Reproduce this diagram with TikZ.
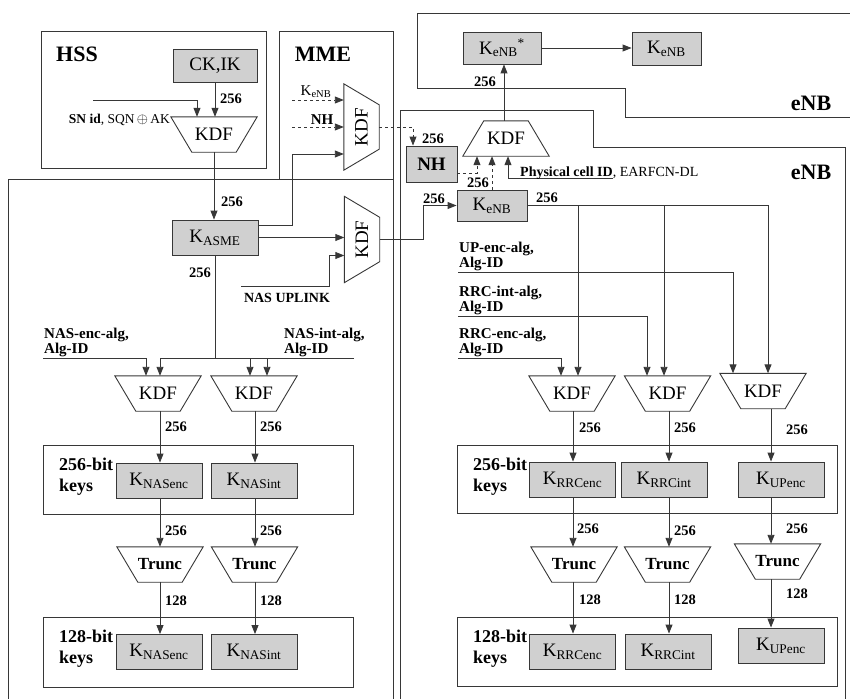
\documentclass[tikz,border=0pt]{standalone}
\usepackage{fontspec}
\usepackage{graphicx}
\setmainfont{Liberation Serif}
\usetikzlibrary{arrows.meta,positioning}
\definecolor{keyGray}{RGB}{208,208,208}
\definecolor{lineDark}{RGB}{55,55,55}
\newcommand{\Ksub}[1]{K\textsubscript{#1}}

\begin{document}
\begin{tikzpicture}[x=1pt,y=-1pt,
    trap/.style={draw=lineDark,line width=0.9pt},
    key/.style={draw=lineDark,line width=0.9pt,fill=keyGray,minimum width=86pt,minimum height=35pt,
      inner sep=0pt,font=\fontsize{19}{19}\selectfont},
    kdf/.style={minimum width=86pt,minimum height=35pt,inner sep=0pt,font=\fontsize{19}{19}\selectfont,
      append after command={\pgfextra{\draw[trap] (\tikzlastnode.north west) -- (\tikzlastnode.north east)
        -- ([xshift=-21pt]\tikzlastnode.south east) -- ([xshift=21pt]\tikzlastnode.south west) -- cycle;}}},
    kdfup/.style={minimum width=86pt,minimum height=35pt,inner sep=0pt,font=\fontsize{19}{19}\selectfont,
      append after command={\pgfextra{\draw[trap] ([xshift=21pt]\tikzlastnode.north west)
        -- ([xshift=-21pt]\tikzlastnode.north east) -- (\tikzlastnode.south east)
        -- (\tikzlastnode.south west) -- cycle;}}},
    kdfside/.style={minimum width=35pt,minimum height=86pt,inner sep=0pt,font=\fontsize{19}{19}\selectfont,
      append after command={\pgfextra{\draw[trap] (\tikzlastnode.north west)
        -- ([yshift=-21pt]\tikzlastnode.north east) -- ([yshift=21pt]\tikzlastnode.south east)
        -- (\tikzlastnode.south west) -- cycle;}}},
    trunc/.style={kdf,font=\fontsize{17}{17}\selectfont\bfseries},
    frame/.style={draw=lineDark,line width=0.9pt},
    title/.style={font=\fontsize{22}{22}\selectfont\bfseries,inner sep=0pt},
    num/.style={font=\fontsize{14.5}{14.5}\selectfont\bfseries,inner sep=0pt},
    alg/.style={font=\fontsize{15}{15}\selectfont\bfseries,align=left,anchor=south west,inner sep=1pt},
    bits/.style={font=\fontsize{18}{21}\selectfont\bfseries,align=left,anchor=west,inner sep=0pt},
    arr/.style={-{Triangle[length=9pt,width=7pt]},draw=lineDark,line width=0.9pt},
    darr/.style={arr,dashed}
  ]
  \useasboundingbox (0,0) rectangle (850,698);

  % domains
  \draw[frame] (41,31) rectangle (266,168);
  \draw[frame] (279,31) rectangle (393,179);
  \draw[frame] (8,700) -- (8,179) -- (393,179) -- (393,700);
  \draw[frame] (852,13) -- (417,13) -- (417,88) -- (625,88) -- (625,117) -- (852,117);
  \draw[frame] (400,700) -- (400,110) -- (593,110) -- (593,147) -- (845,147) -- (845,700);
  \node[title] (hss) at (77,54) {HSS};
  \node[title] (mme) at (323,54) {MME};
  \node[title] (enbT) at (811,103) {eNB};
  \node[title] (enbB) at (811,172) {eNB};

  % HSS
  \node[key,minimum width=84pt,minimum height=33pt] (ckik) at (215,65.5) {CK,IK};
  \node[kdf] (kdfH) at (214,134.5) {KDF};
  \draw[arr] (ckik.south) -- (ckik.south |- kdfH.north);
  \node[num] (n1) at (231,99) {256};
  \coordinate (snin) at (93,100);
  \draw[arr] (snin) -| ([xshift=-17pt]kdfH.north);
  \node[font=\fontsize{13.5}{13.5}\selectfont,anchor=east,inner sep=0pt] (snlbl) at (170,120)
    {\textbf{SN id}, SQN\,$\oplus$\,AK};

  % MME
  \node[key] (kasme) at (215,237.5) {\Ksub{ASME}};
  \draw[arr] (kdfH.south) -- (kdfH.south |- kasme.north);
  \node[num] (n2) at (232,202) {256};
  \node[kdfside] (kdfM) at (361.5,127) {\rotatebox{90}{KDF}};
  \node[kdfside] (kdfU) at (362,239.5) {\rotatebox{90}{KDF}};
  \coordinate (mk) at (292,100);
  \coordinate (mn) at (292,127);
  \draw[darr] (mk) -- (mk -| kdfM.west);
  \draw[darr] (mn) -- (mn -| kdfM.west);
  \node[font=\fontsize{15}{15}\selectfont,anchor=south,inner sep=1pt] (lkM) at (316,99) {\Ksub{eNB}};
  \node[font=\fontsize{15}{15}\selectfont\bfseries,anchor=south,inner sep=1pt] (lnM) at (322,126) {NH};
  \coordinate (kup) at (292,154);
  \draw[arr] ([yshift=12.5pt]kasme.east) -| (kup) -- (kup -| kdfM.west);
  \draw[arr] (kasme.east) -- (kasme.east -| kdfU.west);
  \coordinate (upl) at (241,286);
  \coordinate (uplb) at (329,286);
  \draw[arr] (upl) -- (uplb) |- ([yshift=-16pt]kdfU.west);
  \node[font=\fontsize{14}{14}\selectfont\bfseries,inner sep=0pt] (lupl) at (287,298) {NAS UPLINK};

  % NAS keys
  \node[num] (n3) at (200,273) {256};
  \coordinate (nasJ) at (215,358);
  \coordinate (aNe) at (43,358);
  \coordinate (aNi) at (354,358);
  \node[kdf] (kdfNe) at (158,393.5) {KDF};
  \node[kdf] (kdfNi) at (254,393.5) {KDF};
  \draw[frame] (kasme.south) -- (nasJ);
  \draw[arr] (aNe) -| ([xshift=-12pt]kdfNe.north);
  \draw[arr] (nasJ) -| ([xshift=2pt]kdfNe.north);
  \draw[arr] (nasJ) -| ([xshift=13pt]kdfNi.north);
  \draw[arr] (aNi) -| ([xshift=-4pt]kdfNi.north);
  \node[alg] (lNe) at (aNe) {NAS-enc-alg,\\Alg-ID};
  \node[alg] (lNi) at (283,358) {NAS-int-alg,\\Alg-ID};

  \coordinate (colNe) at (160,0);
  \coordinate (colNi) at (255,0);
  \draw[frame] (43,445) rectangle (353,514);
  \node[bits] (bNa) at (59,476.5) {256-bit\\keys};
  \node[key] (kNe256) at (159,480.5) {\Ksub{NASenc}};
  \node[key] (kNi256) at (254,480.5) {\Ksub{NASint}};
  \node[trunc] (tNe) at (160,564.5) {Trunc};
  \node[trunc] (tNi) at (254.5,564.5) {Trunc};
  \draw[frame] (43,617) rectangle (353,687);
  \node[bits] (bNb) at (59,648.5) {128-bit\\keys};
  \node[key] (kNe128) at (159,652) {\Ksub{NASenc}};
  \node[key] (kNi128) at (254,652) {\Ksub{NASint}};
  \draw[arr] (kdfNe.south -| colNe) -- (kNe256.north -| colNe);
  \draw[arr] (kdfNi.south -| colNi) -- (kNi256.north -| colNi);
  \draw[arr] (kNe256.south -| colNe) -- (tNe.north -| colNe);
  \draw[arr] (kNi256.south -| colNi) -- (tNi.north -| colNi);
  \draw[arr] (tNe.south -| colNe) -- (kNe128.north -| colNe);
  \draw[arr] (tNi.south -| colNi) -- (kNi128.north -| colNi);
  \node[num] (n4) at (176,427) {256};
  \node[num] (n5) at (271,427) {256};
  \node[num] (n6) at (176,531) {256};
  \node[num] (n7) at (271,531) {256};
  \node[num] (n8) at (176,601) {128};
  \node[num] (n9) at (271,601) {128};

  % eNB
  \node[key,font=\fontsize{19}{19}\selectfont\bfseries,minimum width=51pt,minimum height=36pt] (nh) at (431.5,164) {NH};
  \node[key,minimum width=70pt,minimum height=31pt] (kenb) at (492,205.5) {\Ksub{eNB}};
  \node[kdfup] (kdfE) at (506,138.5) {KDF};
  \node[key,minimum width=78pt,minimum height=32pt] (kenbs) at (502,48) {\Ksub{eNB}\textsuperscript{*}};
  \node[key,minimum width=69pt,minimum height=33pt] (kenbt) at (666.5,48.5) {\Ksub{eNB}};
  \draw[darr] (kdfM.east) -| ([xshift=-18.5pt]nh.north);
  \node[num] (n10) at (433,139) {256};
  \coordinate (ubend) at (423,0);
  \draw[arr] (kdfU.east) -- (kdfU.east -| ubend) |- (kenb.west);
  \node[num] (n11) at (434,199) {256};
  \draw[arr] ([xshift=-2pt]kdfE.north) -- ([xshift=-2pt]kdfE.north |- kenbs.south);
  \node[num] (n12) at (485,82) {256};
  \draw[arr] (kenbs.east) -- (kenbs.east -| kenbt.west);
  \draw[darr] ([yshift=-9pt]nh.east) -| ([xshift=-29pt]kdfE.south);
  \draw[darr] (kenb.north) -- ([xshift=-14pt]kdfE.south);
  \node[num] (n13) at (478,183) {256};
  \coordinate (phy) at (613,178);
  \draw[arr] (phy) -| ([xshift=2pt]kdfE.south);
  \node[font=\fontsize{14}{14}\selectfont,anchor=base west,inner sep=0pt] (lphy) at (520,176)
    {\textbf{Physical cell ID}, EARFCN-DL};

  \node[kdf] (kdfA) at (572,393.5) {KDF};
  \node[kdf] (kdfB) at (667.5,393.5) {KDF};
  \node[kdf] (kdfC) at (763,391) {KDF};
  \draw[arr] (kenb.east) -| ([xshift=6pt]kdfA.north);
  \draw[arr] (kenb.east) -| ([xshift=-3.5pt]kdfB.north);
  \draw[arr] (kenb.east) -| ([xshift=5pt]kdfC.north);
  \node[num] (n14) at (547,198) {256};
  \coordinate (aUp) at (458,272);
  \coordinate (aRi) at (458,316);
  \coordinate (aRe) at (458,358);
  \draw[arr] (aUp) -| ([xshift=-30pt]kdfC.north);
  \draw[arr] (aRi) -| ([xshift=-20.5pt]kdfB.north);
  \draw[arr] (aRe) -| ([xshift=-11pt]kdfA.north);
  \node[alg] (lUp) at (aUp) {UP-enc-alg,\\Alg-ID};
  \node[alg] (lRi) at (aRi) {RRC-int-alg,\\Alg-ID};
  \node[alg] (lRe) at (aRe) {RRC-enc-alg,\\Alg-ID};

  \coordinate (colA) at (573,0);
  \coordinate (colB) at (669,0);
  \coordinate (colC) at (771,0);
  \draw[frame] (457,445) rectangle (837,513);
  \node[bits] (bRa) at (473,476.5) {256-bit\\keys};
  \node[key] (kRe256) at (572.5,479.5) {\Ksub{RRCenc}};
  \node[key] (kRi256) at (664,479.5) {\Ksub{RRCint}};
  \node[key] (kUp256) at (781,479.5) {\Ksub{UPenc}};
  \node[trunc] (tA) at (574,564.5) {Trunc};
  \node[trunc] (tB) at (667.5,564.5) {Trunc};
  \node[trunc] (tC) at (777.5,561.5) {Trunc};
  \draw[frame] (457,617) rectangle (837,686);
  \node[bits] (bRb) at (473,648.5) {128-bit\\keys};
  \node[key] (kRe128) at (572.5,651.5) {\Ksub{RRCenc}};
  \node[key] (kRi128) at (668,651.5) {\Ksub{RRCint}};
  \node[key] (kUp128) at (781,645.5) {\Ksub{UPenc}};
  \draw[arr] (kdfA.south -| colA) -- (kRe256.north -| colA);
  \draw[arr] (kdfB.south -| colB) -- (kRi256.north -| colB);
  \draw[arr] (kdfC.south -| colC) -- (kUp256.north -| colC);
  \draw[arr] (kRe256.south -| colA) -- (tA.north -| colA);
  \draw[arr] (kRi256.south -| colB) -- (tB.north -| colB);
  \draw[arr] (kUp256.south -| colC) -- (tC.north -| colC);
  \draw[arr] (tA.south -| colA) -- (kRe128.north -| colA);
  \draw[arr] (tB.south -| colB) -- (kRi128.north -| colB);
  \draw[arr] (tC.south -| colC) -- (kUp128.north -| colC);
  \node[num] (n15) at (590,428) {256};
  \node[num] (n16) at (685,428) {256};
  \node[num] (n17) at (797,430) {256};
  \node[num] (n18) at (588,529) {256};
  \node[num] (n19) at (685,531) {256};
  \node[num] (n20) at (797,529) {256};
  \node[num] (n21) at (590,600) {128};
  \node[num] (n22) at (685,600) {128};
  \node[num] (n23) at (797,594) {128};
\end{tikzpicture}
\end{document}
